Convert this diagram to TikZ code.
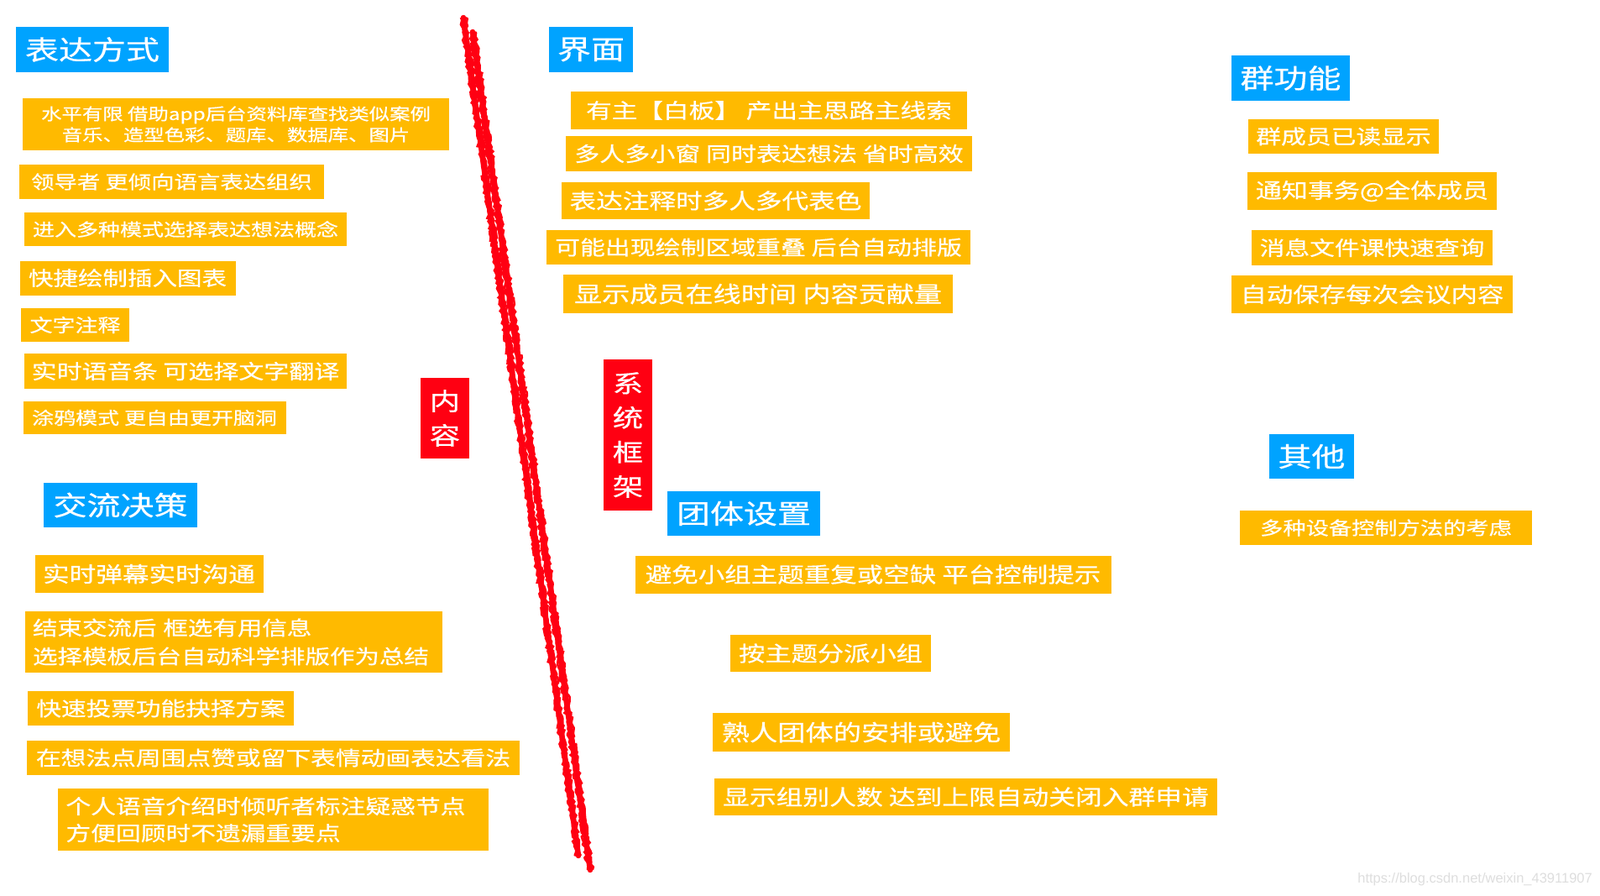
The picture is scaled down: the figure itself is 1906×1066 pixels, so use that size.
\documentclass[tikz,border=0pt]{standalone}
\usepackage{fontspec}
\setmainfont{Noto Sans CJK SC}[FakeStretch=1.25, FakeBold=0.5]
\newfontfamily\wmfont{Liberation Sans}
\usetikzlibrary{decorations.pathmorphing}
\definecolor{blueT}{RGB}{0,163,255}
\definecolor{orangeT}{RGB}{255,186,0}
\definecolor{redT}{RGB}{255,0,18}
\begin{document}
\begin{tikzpicture}[x=1pt,y=-1pt,
  fs/.style={font=\fontsize{#1}{#1}\selectfont},
  box/.style={fill=orangeT, text=white, inner sep=0pt},
  ttl/.style={fill=blueT, text=white, inner sep=0pt, font=\fontsize{32}{32}\selectfont},
  vbox/.style={fill=redT, text=white, inner sep=0pt, align=center, font=\fontsize{29}{41}\selectfont},
  slash/.style={draw=redT, line width=6.5pt, line cap=round},
  rough/.style={draw=redT, line width=2.5pt, decorate, decoration={random steps, segment length=3pt, amplitude=1.6pt}}]
\useasboundingbox (0,0) rectangle (1906,1066);
\fill[white] (0,0) rectangle (1906,1066);

% ---- dividing strokes
\coordinate (s1a) at (552,21);
\coordinate (s1b) at (689,1019);
\coordinate (s2a) at (563,38);
\coordinate (s2b) at (703,1036);
\draw[slash] (s1a) -- (s1b);
\draw[slash] (s2a) -- (s2b);
\draw[rough] ([xshift=-3pt]s1a) -- ([xshift=-3pt]s1b);
\draw[rough] ([xshift=3pt]s1a) -- ([xshift=3pt]s1b);
\draw[rough] ([xshift=-3pt]s2a) -- ([xshift=-3pt]s2b);
\draw[rough] ([xshift=3pt]s2a) -- ([xshift=3pt]s2b);

% ---- left column: 表达方式
\node[ttl, minimum width=182, minimum height=54] (t1) at (110,59) {表达方式};
\node[box, minimum width=508, minimum height=62, align=center, font=\fontsize{19.5}{25}\selectfont] (l1) at (281,148)
  {水平有限 借助app后台资料库查找类似案例\\音乐、造型色彩、题库、数据库、图片};
\node[box, minimum width=363, minimum height=41, fs=21.9] (l2) at (204.5,216.5) {领导者 更倾向语言表达组织};
\node[box, minimum width=384, minimum height=40, fs=20.8] (l3) at (221,273) {进入多种模式选择表达想法概念};
\node[box, minimum width=257, minimum height=41, fs=23.6] (l4) at (152,331) {快捷绘制插入图表};
\node[box, minimum width=129, minimum height=40, fs=21.6] (l5) at (89.5,387) {文字注释};
\node[box, minimum width=384, minimum height=42, fs=24] (l6) at (221,442) {实时语音条 可选择文字翻译};
\node[box, minimum width=313, minimum height=39, fs=20.8] (l7) at (184,497.5) {涂鸦模式 更自由更开脑洞};

\node[vbox, minimum width=58, minimum height=96] (nr) at (530,498) {内\\容};

% ---- 交流决策
\node[ttl, minimum width=183, minimum height=53] (t2) at (143.5,601.5) {交流决策};
\node[box, minimum width=272, minimum height=45, fs=25.3] (c1) at (177.5,683.5) {实时弹幕实时沟通};
\node[box, inner xsep=9pt, text width=479pt, minimum height=73, align=left, font=\fontsize{23.6}{34}\selectfont] (c2) at (278.5,764.5)
  {结束交流后 框选有用信息\\选择模板后台自动科学排版作为总结};
\node[box, minimum width=317, minimum height=41, fs=23.7] (c3) at (191.5,843.5) {快速投票功能抉择方案};
\node[box, minimum width=587, minimum height=41, fs=23.8] (c4) at (325.5,902.5) {在想法点周围点赞或留下表情动画表达看法};
\node[box, inner xsep=10pt, text width=493pt, minimum height=74, align=left, font=\fontsize{23.8}{32}\selectfont] (c5) at (325,976)
  {个人语音介绍时倾听者标注疑惑节点\\方便回顾时不遗漏重要点};

% ---- 界面
\node[ttl, minimum width=100, minimum height=54] (t3) at (704,59) {界面};
\node[box, minimum width=472, minimum height=45, fs=24.5] (r1) at (916,131.5) {有主【白板】 产出主思路主线索};
\node[box, minimum width=484, minimum height=42, fs=24] (r2) at (916,183) {多人多小窗 同时表达想法 省时高效};
\node[box, minimum width=367, minimum height=44, fs=25.3] (r3) at (852.5,239) {表达注释时多人多代表色};
\node[box, minimum width=505, minimum height=41, fs=23.9] (r4) at (903.5,294.5) {可能出现绘制区域重叠 后台自动排版};
\node[box, minimum width=464, minimum height=46, fs=26.5] (r5) at (903,350) {显示成员在线时间 内容贡献量};

\node[vbox, minimum width=58, minimum height=180] (sf) at (748,518) {系\\统\\框\\架};

% ---- 团体设置
\node[ttl, minimum width=182, minimum height=53] (t4) at (886,611.5) {团体设置};
\node[box, minimum width=567, minimum height=45, fs=25.2] (g1) at (1040,684) {避免小组主题重复或空缺 平台控制提示};
\node[box, minimum width=239, minimum height=44, fs=25] (g2) at (989.5,778) {按主题分派小组};
\node[box, minimum width=354, minimum height=46, fs=26.6] (g3) at (1026,872) {熟人团体的安排或避免};
\node[box, minimum width=599, minimum height=44, fs=25.4] (g4) at (1150.5,949) {显示组别人数 达到上限自动关闭入群申请};

% ---- 群功能
\node[ttl, minimum width=141, minimum height=54] (t5) at (1537.5,93) {群功能};
\node[box, minimum width=227, minimum height=41, fs=23.8] (q1) at (1600.5,162.5) {群成员已读显示};
\node[box, minimum width=297, minimum height=45, fs=24.8] (q2) at (1634.5,227.5) {通知事务@全体成员};
\node[box, minimum width=287, minimum height=42, fs=23.8] (q3) at (1634.5,295) {消息文件课快速查询};
\node[box, minimum width=335, minimum height=45, fs=25.1] (q4) at (1634.5,350.5) {自动保存每次会议内容};

% ---- 其他
\node[ttl, minimum width=101, minimum height=53] (t6) at (1562.5,543.5) {其他};
\node[box, minimum width=348, minimum height=41, fs=21.8] (o1) at (1651,628.5) {多种设备控制方法的考虑};

% ---- watermark
\node[anchor=east, inner sep=0pt, text=black!13, font=\wmfont\fontsize{16.5}{16.5}\selectfont] (wm) at (1897,1047) {https://blog.csdn.net/weixin\_43911907};
\end{tikzpicture}
\end{document}
